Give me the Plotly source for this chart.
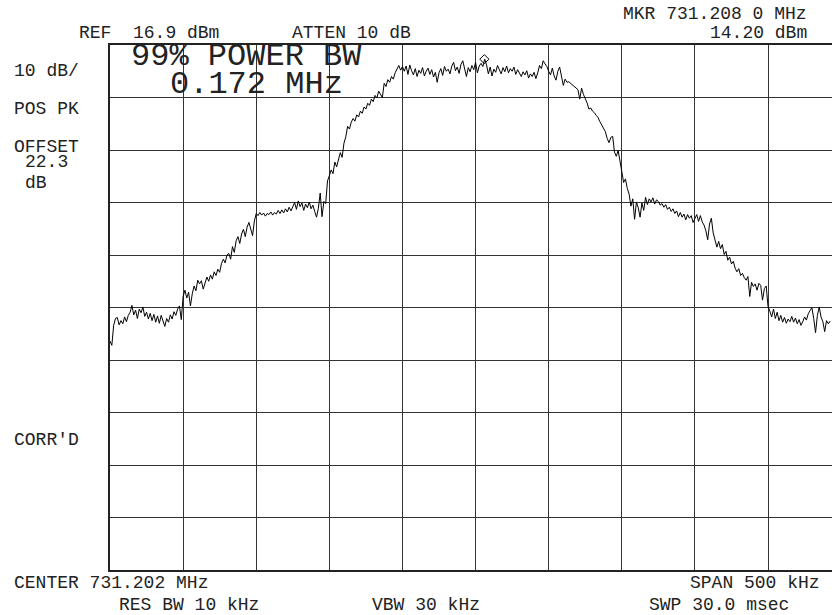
import plotly.graph_objects as go

# ---- instrument settings ----
center_mhz = 731.202
span_mhz = 0.5
ref_dbm = 16.9
db_per_div = 10
n_sweep_points = 401          # full sweep; only the visible part is listed below
visible_divs = 9.875          # the right edge of the screen is cut off

marker_freq_mhz = [731.2080]
marker_level_dbm = [14.20]

# ---- trace values (dBm), one per sweep point from the left edge ----
trace_dbm = [
    # left skirt floor
    -39.5, -40.3, -36.5, -35.2, -35.0, -36.4, -35.6, -36.2, -34.9, -35.8, -34.6,
    -34.0, -32.7, -34.5, -33.6, -35.2, -33.4, -34.1, -33.0, -34.8, -34.0,
    -35.3, -34.2, -35.6, -34.4, -35.9, -34.7, -36.1, -34.6, -35.8, -36.7,
    -35.2, -35.9, -34.5, -35.3, -33.9, -34.6, -33.4, -32.8,
    # first rise
    -35.4, -31.0, -29.8, -31.3, -30.2, -32.8, -30.5, -29.0, -29.9, -27.9, -28.6,
    -28.0, -29.6, -28.4, -27.3, -28.1, -26.9, -27.7, -26.3, -27.0, -25.8,
    -26.4, -24.7, -23.9, -24.6, -23.1, -22.8,
    -23.9, -21.5, -22.6, -20.4, -19.6, -20.9, -19.1, -18.2, -19.6, -17.8,
    -16.9, -18.4, -19.4, -16.6, -15.2,
    # shoulder
    -15.6, -15.0, -15.5, -15.1, -15.7, -15.2, -15.4, -14.9, -15.5, -15.0,
    -15.3, -14.6, -15.2, -14.5, -15.1, -14.3, -14.9, -14.0, -14.7, -13.8,
    -13.1, -14.4, -12.8, -13.9, -13.2, -14.6, -13.4, -14.1, -13.0, -14.3,
    -13.6, -14.8, -15.9, -14.2, -11.3, -15.8, -12.9,
    # main rise
    -13.3, -9.0, -8.0, -6.9, -7.6, -5.4, -6.3, -4.9, -3.6, -4.5, -1.8, -0.6,
    1.4, 0.9, 2.2, 2.9, 2.4, 3.6, 3.2, 4.3, 3.9, 5.1, 4.7, 5.8, 5.4, 6.6,
    6.1, 7.3, 6.8, 8.1, 7.6, 6.9, 9.6, 9.0, 10.3, 9.8, 10.9, 10.4, 11.6,
    12.3, 13.0,
    # top plateau
    12.1, 12.8, 11.9, 12.9, 11.3, 13.1, 12.0, 11.2, 12.4, 10.9, 12.1, 11.5,
    12.6, 11.0, 11.9, 12.5, 11.3, 12.2, 10.8, 11.7, 9.8, 11.6, 12.4, 11.1,
    12.8, 11.9, 12.3, 11.4, 12.9, 13.6, 12.0, 12.7, 11.5, 13.2, 13.9, 12.4,
    10.9, 12.6, 11.8, 13.0, 12.2, 13.6, 11.6, 12.9, 13.4, 12.8, 14.2, 13.1,
    11.4, 12.7, 11.0, 12.3, 11.7, 13.0, 12.1, 11.4, 12.6, 11.8, 12.9, 11.6,
    12.4, 11.9, 12.7, 11.3, 12.2, 11.5, 10.9, 11.8, 11.2, 12.0, 10.6, 11.4,
    10.9, 11.7, 10.5, 11.6, 13.0, 12.4, 13.9, 13.3, 12.8, 11.9,
    # main fall
    11.2, 12.5, 11.0, 10.2, 11.9, 12.7, 10.8, 9.2, 10.4, 9.8, 9.9, 9.6, 9.4,
    9.0, 8.7, 8.4, 6.6, 8.7, 7.5, 6.8, 5.9, 4.7,
    4.9, 4.3, 4.0, 3.5, 3.1, 2.3, 1.6, 1.0, 0.4, -0.9, -1.7, -0.7, -0.5,
    -3.5, -4.3, -3.2, -5.6, -7.2, -9.3, -8.6, -10.4, -11.5, -13.8, -12.4,
    -16.3, -13.0, -14.1,
    # right shoulder
    -15.9, -13.2, -14.6, -12.1, -13.5, -12.4, -13.0, -12.2, -13.4, -12.6,
    -12.9, -13.6, -13.3, -14.0, -13.5, -14.4, -14.0, -14.8, -14.3, -15.2,
    -14.7, -15.8, -15.0, -15.9, -15.3, -16.4, -15.4, -16.1, -15.6, -16.9,
    -16.2, -15.4, -16.7, -15.6, -16.8,
    # second fall
    -17.4, -18.5, -20.2, -17.2, -16.1, -18.9, -20.6, -21.6, -20.5, -21.9,
    -21.1, -23.0, -22.4, -24.1, -23.5, -24.8, -24.3, -25.6, -26.3, -25.7,
    -27.0, -26.6, -27.4, -27.9, -27.2, -31.0, -28.3, -29.1, -28.6, -29.8,
    -28.5, -28.9, -31.7, -29.5, -29.0, -32.9,
    # right skirt floor
    -33.8, -34.9, -33.4, -35.2, -34.0, -35.6, -34.6, -35.9, -35.0, -36.1,
    -35.3, -35.8, -34.8, -35.9, -35.1, -36.2, -35.4, -36.5, -35.8, -34.9,
    -35.5, -34.3, -33.7, -33.1, -35.2, -37.9, -34.6, -33.0, -34.9, -35.8,
    -37.7, -35.6, -36.2, -35.7,
]

start_mhz = center_mhz - span_mhz / 2
step_mhz = span_mhz / (n_sweep_points - 1)
freq_mhz = [start_mhz + k * step_mhz for k in range(len(trace_dbm))]
div_mhz = span_mhz / 10

W, H = 832, 615
L, R, T, B = 110, 0, 45, 45
PW, PH = W - L - R, H - T - B

def px(x):
    return (x - L) / PW

def py(y):
    return (H - B - y) / PH

FONT = "Courier New, Liberation Mono, monospace"

fig = go.Figure()
fig.add_trace(go.Scatter(
    x=freq_mhz, y=trace_dbm, mode="lines",
    line=dict(color="black", width=1), hoverinfo="skip", showlegend=False))
fig.add_trace(go.Scatter(
    x=marker_freq_mhz, y=marker_level_dbm, mode="markers",
    marker=dict(symbol="diamond-open", size=7, color="black", line=dict(width=1)),
    hoverinfo="skip", showlegend=False))

small = [
    ("REF", 77, 33),
    ("16.9 dBm", 131, 33),
    ("ATTEN 10 dB", 290, 33),
    ("MKR 731.208 0 MHz", 621, 14),
    ("14.20 dBm", 708, 33),
    ("10 dB/", 12, 71),
    ("POS PK", 12, 109),
    ("OFFSET", 12, 147),
    ("22.3", 23, 162),
    ("dB", 23, 183),
    ("CORR'D", 12, 440),
    ("CENTER 731.202 MHz", 12, 583),
    ("RES BW 10 kHz", 117, 605),
    ("VBW 30 kHz", 370, 605),
    ("SPAN 500 kHz", 688, 583),
    ("SWP 30.0 msec", 647, 605),
]
annotations = []
for txt, x, y in small:
    annotations.append(dict(
        text=txt, x=px(x), y=py(y), xref="paper", yref="paper",
        xanchor="left", yanchor="middle", showarrow=False,
        font=dict(family=FONT, size=18, color="#222")))
big = [("99% POWER BW", 129, 56), ("0.172 MHz", 168, 85)]
for txt, x, y in big:
    annotations.append(dict(
        text=txt, x=px(x), y=py(y), xref="paper", yref="paper",
        xanchor="left", yanchor="middle", showarrow=False,
        font=dict(family=FONT, size=32, color="#222")))

fig.update_layout(
    width=W, height=H,
    margin=dict(l=L, r=R, t=T, b=B, pad=0),
    paper_bgcolor="white", plot_bgcolor="white",
    annotations=annotations,
    xaxis=dict(
        range=[start_mhz, start_mhz + visible_divs * div_mhz],
        tick0=start_mhz, dtick=div_mhz, tickmode="linear",
        showgrid=True, gridcolor="#333", gridwidth=1.2,
        showline=True, linecolor="#222", linewidth=1.5, mirror=True,
        showticklabels=False, ticks="", zeroline=False, fixedrange=True),
    yaxis=dict(
        range=[ref_dbm - 10 * db_per_div, ref_dbm],
        tick0=ref_dbm, dtick=db_per_div, tickmode="linear",
        showgrid=True, gridcolor="#333", gridwidth=1.2,
        showline=True, linecolor="#222", linewidth=1.5, mirror=False,
        showticklabels=False, ticks="", zeroline=False, fixedrange=True),
)

fig.write_html(
    "out.html",
    config={"displayModeBar": False},
    post_script="document.body.style.margin='0px';document.body.style.overflow='hidden';",
)
